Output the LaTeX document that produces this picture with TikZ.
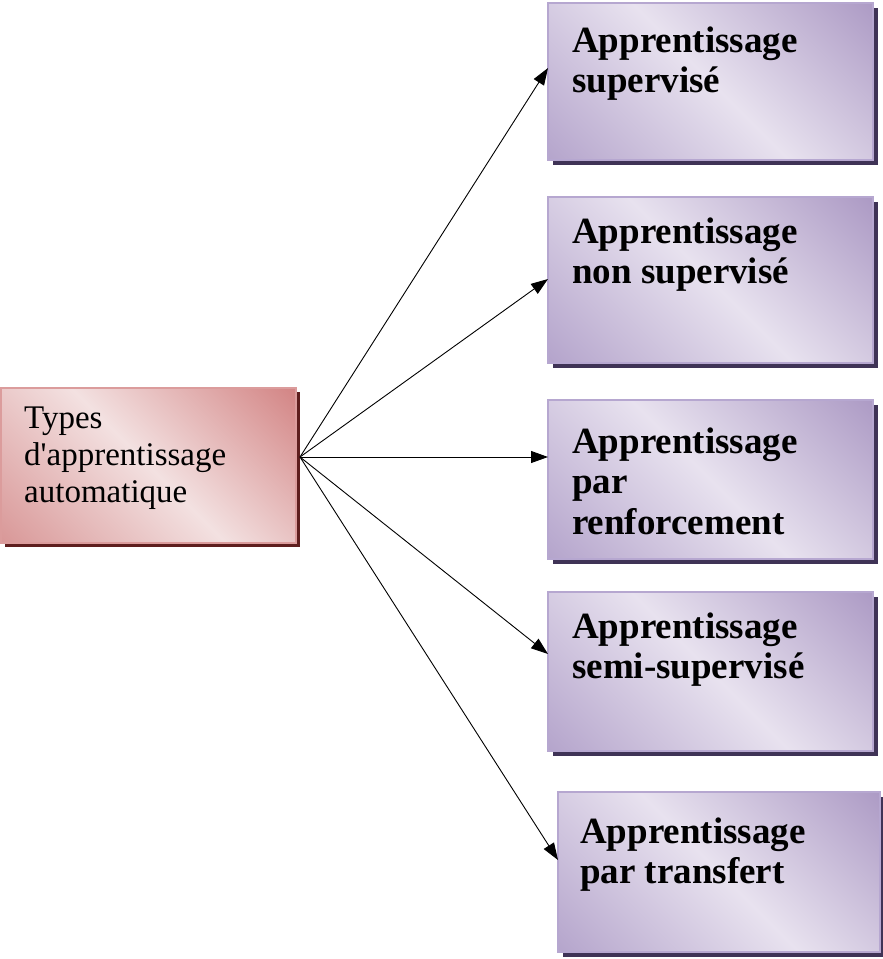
\documentclass[tikz,border=0pt]{standalone}
\usepackage{fontspec}
\setmainfont{Liberation Serif}
\usetikzlibrary{arrows.meta,calc,shadows}
\definecolor{pdark}{HTML}{AD9BC5}
\definecolor{pdarkb}{HTML}{B5A5CC}
\definecolor{plight}{HTML}{E8E2EF}
\definecolor{pborder}{HTML}{B6A7D0}
\definecolor{pshadow}{HTML}{3F3356}
\definecolor{rdark}{HTML}{D38585}
\definecolor{rdarkb}{HTML}{D99898}
\definecolor{rlight}{HTML}{F3E1E1}
\definecolor{rborder}{HTML}{DB9C9C}
\definecolor{rshadow}{HTML}{5E1E1E}
\begin{document}
\begin{tikzpicture}[x=1pt,y=-1pt,
  box/.style={rectangle, inner sep=0pt, outer sep=0pt, anchor=north west, line width=1.5pt},
  pbox/.style={box, draw=pborder,
    path picture={\shade[top color=pdark, bottom color=pdarkb, middle color=plight, shading angle=-45]
      ([xshift=-170pt,yshift=-170pt]path picture bounding box.center) rectangle
      ([xshift=170pt,yshift=170pt]path picture bounding box.center);},
    general shadow={fill=pshadow, shadow xshift=4.5pt, shadow yshift=-4.5pt}},
  rbox/.style={box, draw=rborder,
    path picture={\shade[top color=rdark, bottom color=rdarkb, middle color=rlight, shading angle=-45]
      ([xshift=-158pt,yshift=-158pt]path picture bounding box.center) rectangle
      ([xshift=158pt,yshift=158pt]path picture bounding box.center);},
    general shadow={fill=rshadow, shadow xshift=4pt, shadow yshift=-4pt}},
  btxt/.style={anchor=base west, inner sep=0pt, font=\fontsize{37}{40.5}\selectfont\bfseries},
  ltxt/.style={anchor=base west, inner sep=0pt, font=\fontsize{33}{37}\selectfont},
  conn/.style={-{Triangle[length=17pt,width=12pt]}, line width=0.9pt}
]
\useasboundingbox (0,0) rectangle (883,959);

\node[rbox, minimum width=295pt, minimum height=155pt] (L) at (1,388) {};
\node[pbox, minimum width=325pt, minimum height=157pt] (R1) at (548,3) {};
\node[pbox, minimum width=325pt, minimum height=166pt] (R2) at (548,197) {};
\node[pbox, minimum width=325pt, minimum height=159pt] (R3) at (548,400) {};
\node[pbox, minimum width=325pt, minimum height=159pt] (R4) at (548,592) {};
\node[pbox, minimum width=322pt, minimum height=160pt] (R5) at (558,792) {};

\node[ltxt] (LT) at ($(L.north west)+(23,40)$) {\vtop{\hbox{Types}\hbox{d\textquotesingle apprentissage}\hbox{automatique}}};
\node[btxt] (T1) at ($(R1.north west)+(24,49)$) {\vtop{\hbox{Apprentissage}\hbox{supervisé}}};
\node[btxt] (T2) at ($(R2.north west)+(24,46)$) {\vtop{\hbox{Apprentissage}\hbox{non supervisé}}};
\node[btxt] (T3) at ($(R3.north west)+(24,53)$) {\vtop{\hbox{Apprentissage}\hbox{par}\hbox{renforcement}}};
\node[btxt] (T4) at ($(R4.north west)+(24,46)$) {\vtop{\hbox{Apprentissage}\hbox{semi-supervisé}}};
\node[btxt] (T5) at ($(R5.north west)+(22,51)$) {\vtop{\hbox{Apprentissage}\hbox{par transfert}}};

\coordinate (S) at ($(L.east)+(4,-8.5)$);
\draw[conn] (S) -- ($(R1.north west)+(0,65)$);
\draw[conn] (S) -- ($(R2.north west)+(0,82)$);
\draw[conn] (S) -- ($(R3.north west)+(0,57)$);
\draw[conn] (S) -- ($(R4.north west)+(0,62)$);
\draw[conn] (S) -- ($(R5.north west)+(0,68)$);
\end{tikzpicture}
\end{document}
